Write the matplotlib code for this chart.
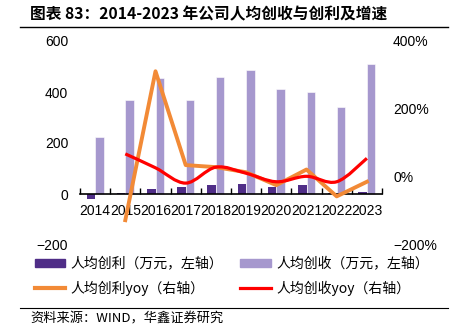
import matplotlib
matplotlib.use("Agg")
import matplotlib.pyplot as plt
import numpy as np
from matplotlib.lines import Line2D
from matplotlib.patches import Patch, PathPatch
from matplotlib.path import Path
from matplotlib.ticker import FuncFormatter

plt.rcParams["font.family"] = ["Noto Sans CJK SC", "DejaVu Sans"]
plt.rcParams["axes.unicode_minus"] = True

years = ["2014", "2015", "2016", "2017", "2018", "2019", "2020", "2021", "2022", "2023"]
profit_per_head = [-20, 3, 21, 27, 35, 39, 29, 34, 5, 9]
revenue_per_head = [225, 368, 456, 368, 460, 486, 410, 401, 340, 508]
profit_yoy = [None, -127, 311, 35, 29, 14, -24, 22, -57, -14]
revenue_yoy = [None, 68, 27, -18, 29, 11, -14, 2, -14, 55]

DARK = "#4F2D87"
LIGHT = "#A698CE"
ORANGE = "#F28A36"
RED = "#FF0000"
TICK_FONT = "Liberation Sans"


def smooth_path(xs, ys):
    # cardinal spline through the points, written as cubic bezier segments
    pts = np.column_stack([xs, ys]).astype(float)
    verts = [pts[0]]
    codes = [Path.MOVETO]
    n = len(pts)
    for i in range(n - 1):
        p_prev = pts[max(i - 1, 0)]
        p0, p1 = pts[i], pts[i + 1]
        p_next = pts[min(i + 2, n - 1)]
        c1 = p0 + (p1 - p_prev) / 6
        c2 = p1 - (p_next - p0) / 6
        verts += [c1, c2, p1]
        codes += [Path.CURVE4] * 3
    return Path(verts, codes)


fig = plt.figure(figsize=(4.61, 3.30), dpi=100)
ax = fig.add_axes([80 / 461, 1 - 245 / 330, 302 / 461, 204 / 330])
ax2 = ax.twinx()

x = np.arange(len(years))
w = 0.28
ax.bar(x - w / 2, profit_per_head, w, color=DARK, zorder=2)
ax.bar(x + w / 2, revenue_per_head, w, color=LIGHT, edgecolor="white", linewidth=0.4, zorder=2)

ax.set_xlim(-0.5, len(years) - 0.5)
ax.set_ylim(-200, 600)
ax.set_yticks([-200, 0, 200, 400, 600])
for side in ["top", "right", "left"]:
    ax.spines[side].set_visible(False)
ax.spines["bottom"].set_position(("data", 0))
ax.spines["bottom"].set_linewidth(1.2)
ax.set_xticks(x)
ax.set_xticklabels(years)
ax.set_xticks(np.arange(-0.5, len(years)), minor=True)
ax.tick_params(axis="x", which="major", length=0, pad=7.5)
ax.tick_params(axis="x", which="minor", length=4, width=1, direction="in")
ax.tick_params(axis="y", length=0, pad=8.5)
ax.yaxis.set_major_formatter(FuncFormatter(lambda v, _: f"{v:.0f}".replace("-", "\u2212")))

ax2.set_ylim(-200, 400)
ax2.set_yticks([-200, 0, 200, 400])
ax2.yaxis.set_major_formatter(FuncFormatter(lambda v, _: f"{v:.0f}%".replace("-", "\u2212")))
for side in ["top", "right", "left", "bottom"]:
    ax2.spines[side].set_visible(False)
ax2.tick_params(axis="y", length=0, pad=8)

for a in (ax, ax2):
    for lab in a.get_xticklabels() + a.get_yticklabels():
        lab.set_fontfamily(TICK_FONT)
        lab.set_fontsize(10)

px = x[1:]
ax2.plot(px, profit_yoy[1:], color=ORANGE, linewidth=2.8, zorder=3)
ax2.add_patch(PathPatch(smooth_path(px, revenue_yoy[1:]), facecolor="none",
                        edgecolor=RED, linewidth=2.3, zorder=4))

handles = [
    Patch(color=DARK),
    Line2D([], [], color=ORANGE, linewidth=3),
    Patch(color=LIGHT),
    Line2D([], [], color=RED, linewidth=2.3),
]
labels = [
    "人均创利（万元，左轴）",
    "人均创利yoy（右轴）",
    "人均创收（万元，左轴）",
    "人均创收yoy（右轴）",
]
fig.legend(handles, labels, ncol=2, loc="upper left", bbox_to_anchor=(0.075, 0.222),
           frameon=False, fontsize=10, handlelength=2.2, handleheight=0.45,
           handletextpad=0.4, columnspacing=1.2, labelspacing=0.7, borderpad=0,
           borderaxespad=0)

fig.text(30 / 461, 1 - 14 / 330, "图表 83：2014-2023 年公司人均创收与创利及增速",
         fontsize=11.3, fontweight="bold", va="center", ha="left")
fig.add_artist(Line2D([20 / 461, 448 / 461], [1 - 27 / 330] * 2, color="black", linewidth=1))
fig.add_artist(Line2D([20 / 461, 448 / 461], [1 - 308 / 330] * 2, color="black", linewidth=0.8))
fig.text(30 / 461, 1 - 319 / 330, "资料来源：WIND，华鑫证券研究", fontsize=9.5, va="center", ha="left")

fig.savefig("out.png", dpi=100)
